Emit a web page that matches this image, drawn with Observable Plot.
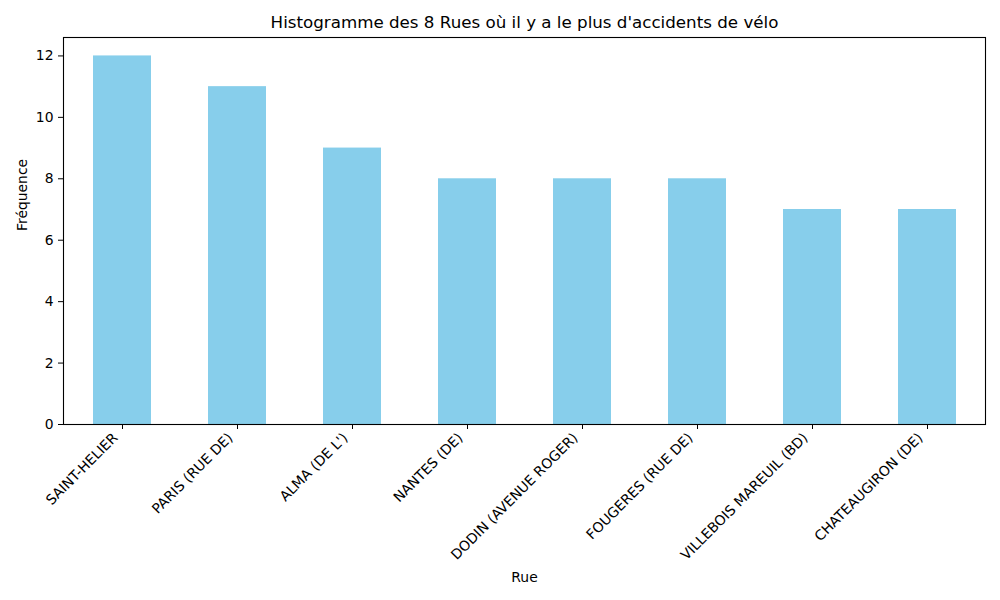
<!DOCTYPE html>
<html><head><meta charset="utf-8">
<script src="https://cdn.jsdelivr.net/npm/d3@7"></script>
<script src="https://cdn.jsdelivr.net/npm/@observablehq/plot@0.6"></script>
<style>body{margin:0;background:#fff;} svg{font-family:"DejaVu Sans",sans-serif;}</style>
</head><body><div id="chart"></div>
<script>
const rues = ["SAINT-HELIER","PARIS (RUE DE)","ALMA (DE L')","NANTES (DE)","DODIN (AVENUE ROGER)","FOUGERES (RUE DE)","VILLEBOIS MAREUIL (BD)","CHATEAUGIRON (DE)"];
const frequences = [12, 11, 9, 8, 8, 8, 7, 7];
const yTicks = [0, 2, 4, 6, 8, 10, 12];
const titre = "Histogramme des 8 Rues où il y a le plus d'accidents de vélo";

const data = rues.map((r, i) => ({rue: r, freq: frequences[i]}));

const chart = Plot.plot({
  width: 1000, height: 600,
  marginLeft: 63, marginRight: 15, marginTop: 37, marginBottom: 176,
  style: {fontFamily: "DejaVu Sans, sans-serif", fontSize: "13.9px", color: "#000", background: "#fff"},
  x: {type: "band", domain: rues, paddingInner: 0.5, paddingOuter: 0.25},
  y: {domain: [0, 12.6]},
  marks: [
    Plot.barY(data, {x: "rue", y: "freq", fill: "#87CEEB"}),
    Plot.axisY({ticks: yTicks, tickSize: 5, tickPadding: 5, label: null, fontSize: 13.9}),
    Plot.axisX({tickSize: 5, tickFormat: () => "", label: null}),
    Plot.axisX({tickSize: 0, tickPadding: 9, tickRotate: -45, dx: -7, dy: 2, label: null, fontSize: 13.9}),
    Plot.frame({stroke: "#000", strokeWidth: 1.1}),
    Plot.text([titre], {frameAnchor: "top", dy: -21, fontSize: 16.7, fill: "#000", text: d => d}),
    Plot.text(["Rue"], {frameAnchor: "bottom", dy: 157, fontSize: 13.9, fill: "#000", text: d => d}),
    Plot.text(["Fréquence"], {frameAnchor: "left", dx: -41, rotate: -90, fontSize: 13.9, fill: "#000", text: d => d})
  ]
});
document.getElementById("chart").appendChild(chart);
</script></body></html>
